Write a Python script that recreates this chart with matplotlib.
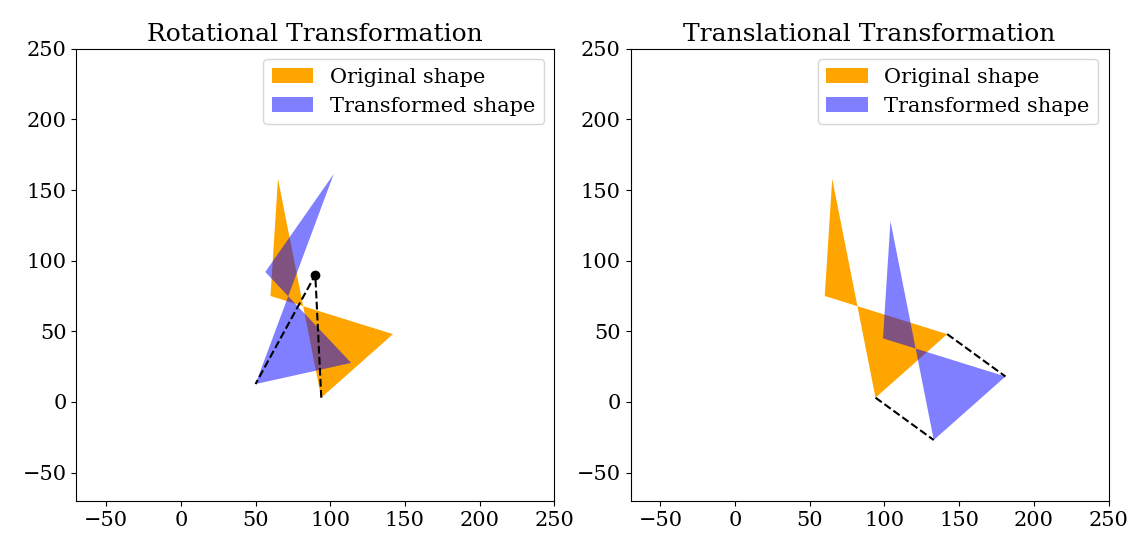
import matplotlib.pyplot as plt
import numpy as np
from matplotlib.patches import Polygon

plt.rcParams["font.family"] = "DejaVu Serif"
plt.rcParams["font.size"] = 15

# original bowtie shape
shape_x = [65, 94, 142, 60]
shape_y = [158, 3, 48, 75]
pivot = (90, 90)
angle_deg = -30
shift = (39, -30)

orig = np.column_stack([shape_x, shape_y]).astype(float)
t = np.radians(angle_deg)
rot = np.array([[np.cos(t), -np.sin(t)], [np.sin(t), np.cos(t)]])
rotated = (orig - pivot) @ rot.T + pivot
translated = orig + shift

fig, axes = plt.subplots(1, 2, figsize=(11.31, 5.52), dpi=100)

for ax, new, title in zip(axes, [rotated, translated],
                          ["Rotational Transformation", "Translational Transformation"]):
    ax.add_patch(Polygon(orig, closed=True, facecolor="orange", lw=0, label="Original shape"))
    ax.add_patch(Polygon(new, closed=True, facecolor="blue", alpha=0.5, lw=0,
                         label="Transformed shape"))
    ax.set_xlim(-70, 250)
    ax.set_ylim(-70, 250)
    ax.set_title(title, fontsize=18)
    ax.legend(loc="upper right")

ax = axes[0]
ax.plot([orig[1, 0], pivot[0], rotated[1, 0]], [orig[1, 1], pivot[1], rotated[1, 1]], "k--")
ax.plot(*pivot, "ko", ms=6)

ax = axes[1]
for i in (1, 2):
    ax.plot([orig[i, 0], translated[i, 0]], [orig[i, 1], translated[i, 1]], "k--")

fig.tight_layout()
fig.savefig("out.png")
